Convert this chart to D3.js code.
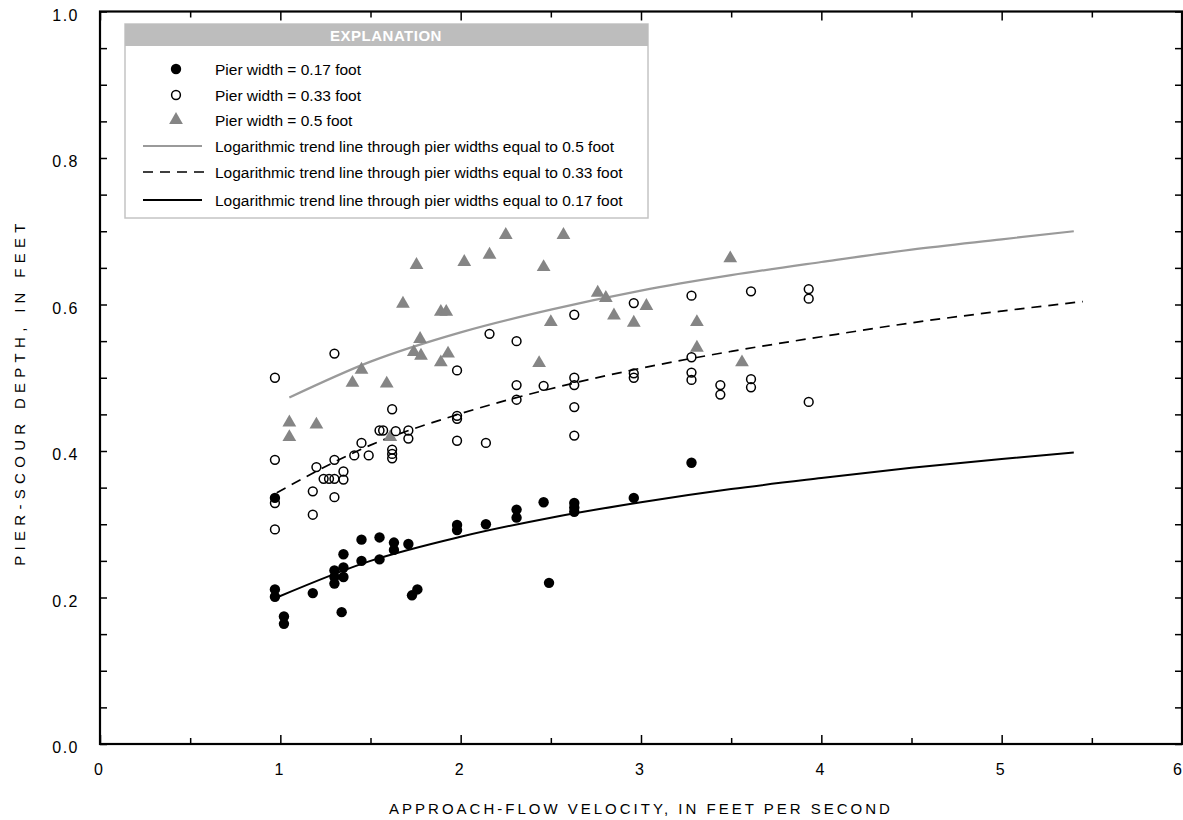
<!DOCTYPE html>
<html lang="en">
<head>
<meta charset="utf-8">
<title>pier scour depth</title>
<script src="https://cdn.jsdelivr.net/npm/d3@7"></script>
<style>
  body { margin: 0; background: #fff; }
  svg text { font-family: "Liberation Sans", Arial, sans-serif; fill: #000; }
</style>
</head>
<body>
<script>
// pier width = 0.17 foot (filled circles)
var vel17 = [0.97, 0.97, 0.97, 1.02, 1.02, 1.18, 1.34, 1.30, 1.30, 1.30, 1.35, 1.35, 1.35,
             1.45, 1.45, 1.55, 1.55, 1.63, 1.63, 1.71, 1.73, 1.76, 1.98, 1.98, 2.14, 2.31,
             2.31, 2.46, 2.49, 2.63, 2.63, 2.63, 2.96, 3.28];
var depth17 = [0.336, 0.211, 0.201, 0.174, 0.164, 0.206, 0.180, 0.237, 0.228, 0.219, 0.259, 0.241, 0.228,
               0.279, 0.250, 0.282, 0.252, 0.275, 0.265, 0.273, 0.203, 0.211, 0.299, 0.292, 0.300, 0.320,
               0.309, 0.330, 0.220, 0.329, 0.323, 0.317, 0.336, 0.384];

// pier width = 0.33 foot (open circles)
var vel33 = [0.97, 0.97, 0.97, 0.97, 1.18, 1.18, 1.20, 1.30, 1.30, 1.30, 1.30, 1.24, 1.27,
             1.35, 1.35, 1.41, 1.45, 1.49, 1.55, 1.57, 1.62, 1.64, 1.62, 1.62, 1.62, 1.71, 1.71,
             1.98, 1.98, 1.98, 1.98, 2.14, 2.16, 2.31, 2.31, 2.31, 2.46,
             2.63, 2.63, 2.63, 2.63, 2.63, 2.96, 2.96, 2.96, 3.28, 3.28, 3.28, 3.28,
             3.44, 3.44, 3.61, 3.61, 3.61, 3.93, 3.93, 3.93];
var depth33 = [0.500, 0.388, 0.329, 0.293, 0.345, 0.313, 0.378, 0.533, 0.388, 0.337, 0.362, 0.362, 0.362,
               0.372, 0.361, 0.394, 0.411, 0.394, 0.428, 0.428, 0.457, 0.427, 0.402, 0.396, 0.390, 0.428, 0.417,
               0.510, 0.448, 0.444, 0.414, 0.411, 0.560, 0.550, 0.490, 0.470, 0.489,
               0.586, 0.500, 0.490, 0.460, 0.421, 0.602, 0.506, 0.500, 0.612, 0.528, 0.507, 0.497,
               0.490, 0.477, 0.618, 0.498, 0.487, 0.621, 0.608, 0.467];

// pier width = 0.5 foot (gray triangles)
var vel50 = [1.05, 1.05, 1.20, 1.40, 1.45, 1.59, 1.61, 1.68, 1.74, 1.755, 1.775, 1.78, 1.89, 1.89,
             1.92, 1.93, 2.02, 2.16, 2.25, 2.435, 2.46, 2.50, 2.57, 2.76, 2.805, 2.85, 2.96, 3.03,
             3.31, 3.31, 3.495, 3.56];
var depth50 = [0.439, 0.419, 0.436, 0.493, 0.511, 0.492, 0.419, 0.601, 0.535, 0.654, 0.553, 0.530, 0.521, 0.590,
               0.590, 0.533, 0.658, 0.668, 0.695, 0.520, 0.651, 0.576, 0.695, 0.616, 0.609, 0.585, 0.575, 0.598,
               0.576, 0.541, 0.663, 0.521];

// trend lines
var trend50Vel = [1.05, 1.5, 2, 2.5, 3, 3.5, 4, 4.5, 5, 5.4];
var trend50Depth = [0.473, 0.522, 0.562, 0.593, 0.619, 0.640, 0.658, 0.675, 0.689, 0.700];
var trend33Vel = [0.98, 1.5, 2, 2.5, 3, 3.5, 4, 4.5, 5, 5.45];
var trend33Depth = [0.343, 0.408, 0.451, 0.485, 0.513, 0.536, 0.556, 0.575, 0.591, 0.604];
var trend17Vel = [0.98, 1.5, 2, 2.5, 3, 3.5, 4, 4.5, 5, 5.4];
var trend17Depth = [0.200, 0.250, 0.283, 0.309, 0.330, 0.348, 0.363, 0.377, 0.389, 0.398];

var xTicks = [0, 1, 2, 3, 4, 5, 6];
var xMinor = [0.5, 1.5, 2.5, 3.5, 4.5, 5.5];
var yTicks = [0, 0.2, 0.4, 0.6, 0.8, 1.0];
var yMinor = d3.range(0, 1.0001, 0.05);

var legendLabels = ["Pier width = 0.17 foot", "Pier width = 0.33 foot", "Pier width = 0.5 foot",
                    "Logarithmic trend line through pier widths equal to 0.5 foot",
                    "Logarithmic trend line through pier widths equal to 0.33 foot",
                    "Logarithmic trend line through pier widths equal to 0.17 foot"];

var w = 1183, h = 820;
var m = {left: 100, right: 1182, top: 11.5, bottom: 744};
var grayMark = "#858585", grayLine = "#9a9a9a";

var svg = d3.select("body").append("svg").attr("width", w).attr("height", h);

var x = d3.scaleLinear().domain([0, 6]).range([m.left, m.right]);
var y = d3.scaleLinear().domain([0, 1]).range([m.bottom, m.top]);

function zip(a, b) { return a.map(function(v, i) { return [v, b[i]]; }); }

// axes: ticks pointing inward on all four sides
function tidy(g) { g.select(".domain").remove(); g.selectAll("line").attr("stroke", "#000").attr("stroke-width", 1.5); }

svg.append("g").attr("transform", "translate(0," + m.bottom + ")")
  .call(d3.axisBottom(x).tickValues(xMinor).tickSizeInner(-6).tickSizeOuter(0).tickFormat(""))
  .call(tidy);
var xLab = svg.append("g").attr("transform", "translate(0," + m.bottom + ")")
  .call(d3.axisBottom(x).tickValues(xTicks).tickSizeInner(-9).tickSizeOuter(0).tickPadding(20).tickFormat(d3.format("d")))
  .call(tidy);
xLab.selectAll("text").attr("font-size", 16).attr("dx", -2);
xLab.selectAll("text").filter(function(d) { return d === 6; }).attr("dx", -5);
svg.append("g").attr("transform", "translate(0," + m.top + ")")
  .call(d3.axisTop(x).tickValues(xMinor).tickSizeInner(-6).tickSizeOuter(0).tickFormat(""))
  .call(tidy);
svg.append("g").attr("transform", "translate(0," + m.top + ")")
  .call(d3.axisTop(x).tickValues(xTicks).tickSizeInner(-9).tickSizeOuter(0).tickFormat(""))
  .call(tidy);

svg.append("g").attr("transform", "translate(" + m.left + ",0)")
  .call(d3.axisLeft(y).tickValues(yMinor).tickSizeInner(-7).tickSizeOuter(0).tickPadding(21)
    .tickFormat(function(d) { return yTicks.some(function(t) { return Math.abs(t - d) < 1e-6; }) ? d3.format(".1f")(d) : ""; }))
  .call(tidy)
  .selectAll("text").attr("font-size", 16).attr("dy", "0.55em").style("letter-spacing", "1.5px");
svg.append("g").attr("transform", "translate(" + m.right + ",0)")
  .call(d3.axisRight(y).tickValues(yMinor).tickSizeInner(-7).tickSizeOuter(0).tickFormat(""))
  .call(tidy);

// frame
svg.append("rect")
  .attr("x", m.left).attr("y", m.top)
  .attr("width", m.right - m.left).attr("height", m.bottom - m.top)
  .attr("fill", "none").attr("stroke", "#000").attr("stroke-width", 2.2);

// axis titles
svg.append("text")
  .attr("x", (m.left + m.right) / 2).attr("y", 814)
  .attr("text-anchor", "middle").attr("font-size", 15)
  .style("letter-spacing", "3px")
  .text("APPROACH-FLOW VELOCITY, IN FEET PER SECOND");
svg.append("text")
  .attr("transform", "translate(25,392) rotate(-90)")
  .attr("text-anchor", "middle").attr("font-size", 15)
  .style("letter-spacing", "5.3px")
  .text("PIER-SCOUR DEPTH, IN FEET");

// trend lines
var line = d3.line()
  .x(function(d) { return x(d[0]); })
  .y(function(d) { return y(d[1]); })
  .curve(d3.curveMonotoneX);

svg.append("path").datum(zip(trend50Vel, trend50Depth))
  .attr("d", line).attr("fill", "none").attr("stroke", grayLine).attr("stroke-width", 2.2);
svg.append("path").datum(zip(trend33Vel, trend33Depth))
  .attr("d", line).attr("fill", "none").attr("stroke", "#000").attr("stroke-width", 1.7)
  .attr("stroke-dasharray", "10,7");
svg.append("path").datum(zip(trend17Vel, trend17Depth))
  .attr("d", line).attr("fill", "none").attr("stroke", "#000").attr("stroke-width", 2);

// points
var tri = d3.symbol().type(d3.symbolTriangle).size(82);

svg.append("g").selectAll("path")
  .data(zip(vel50, depth50)).enter().append("path")
  .attr("d", tri)
  .attr("transform", function(d) { return "translate(" + x(d[0]) + "," + y(d[1]) + ")"; })
  .attr("fill", grayMark);

svg.append("g").selectAll("circle")
  .data(zip(vel33, depth33)).enter().append("circle")
  .attr("cx", function(d) { return x(d[0]); })
  .attr("cy", function(d) { return y(d[1]); })
  .attr("r", 4.4)
  .attr("fill", "none").attr("stroke", "#000").attr("stroke-width", 1.5);

svg.append("g").selectAll("circle")
  .data(zip(vel17, depth17)).enter().append("circle")
  .attr("cx", function(d) { return x(d[0]); })
  .attr("cy", function(d) { return y(d[1]); })
  .attr("r", 5.2)
  .attr("fill", "#000");

// legend
var lg = svg.append("g");
lg.append("rect").attr("x", 125).attr("y", 24).attr("width", 523).attr("height", 194)
  .attr("fill", "#fff").attr("stroke", "#c4c4c4").attr("stroke-width", 1.5);
lg.append("rect").attr("x", 125).attr("y", 24).attr("width", 523).attr("height", 22)
  .attr("fill", "#bdbdbd");
lg.append("text").attr("x", 386).attr("y", 41).attr("text-anchor", "middle")
  .attr("font-size", 15).attr("font-weight", "bold").style("fill", "#fff")
  .style("letter-spacing", "0.5px")
  .text("EXPLANATION");

var rowY = [69, 95, 120, 146, 172, 200];
lg.selectAll("text.item").data(legendLabels).enter().append("text")
  .attr("class", "item")
  .attr("x", 215).attr("y", function(d, i) { return rowY[i] + 5.5; })
  .attr("font-size", 15.5)
  .text(function(d) { return d; });

lg.append("circle").attr("cx", 176).attr("cy", rowY[0]).attr("r", 5.2).attr("fill", "#000");
lg.append("circle").attr("cx", 176).attr("cy", rowY[1]).attr("r", 4.4)
  .attr("fill", "none").attr("stroke", "#000").attr("stroke-width", 1.5);
lg.append("path").attr("d", tri).attr("transform", "translate(176," + rowY[2] + ")").attr("fill", grayMark);
lg.append("line").attr("x1", 143).attr("x2", 202).attr("y1", rowY[3]).attr("y2", rowY[3])
  .attr("stroke", grayLine).attr("stroke-width", 2);
lg.append("line").attr("x1", 143).attr("x2", 205).attr("y1", rowY[4]).attr("y2", rowY[4])
  .attr("stroke", "#000").attr("stroke-width", 1.7).attr("stroke-dasharray", "10,7");
lg.append("line").attr("x1", 143).attr("x2", 202).attr("y1", rowY[5]).attr("y2", rowY[5])
  .attr("stroke", "#000").attr("stroke-width", 2);
</script>
</body>
</html>
